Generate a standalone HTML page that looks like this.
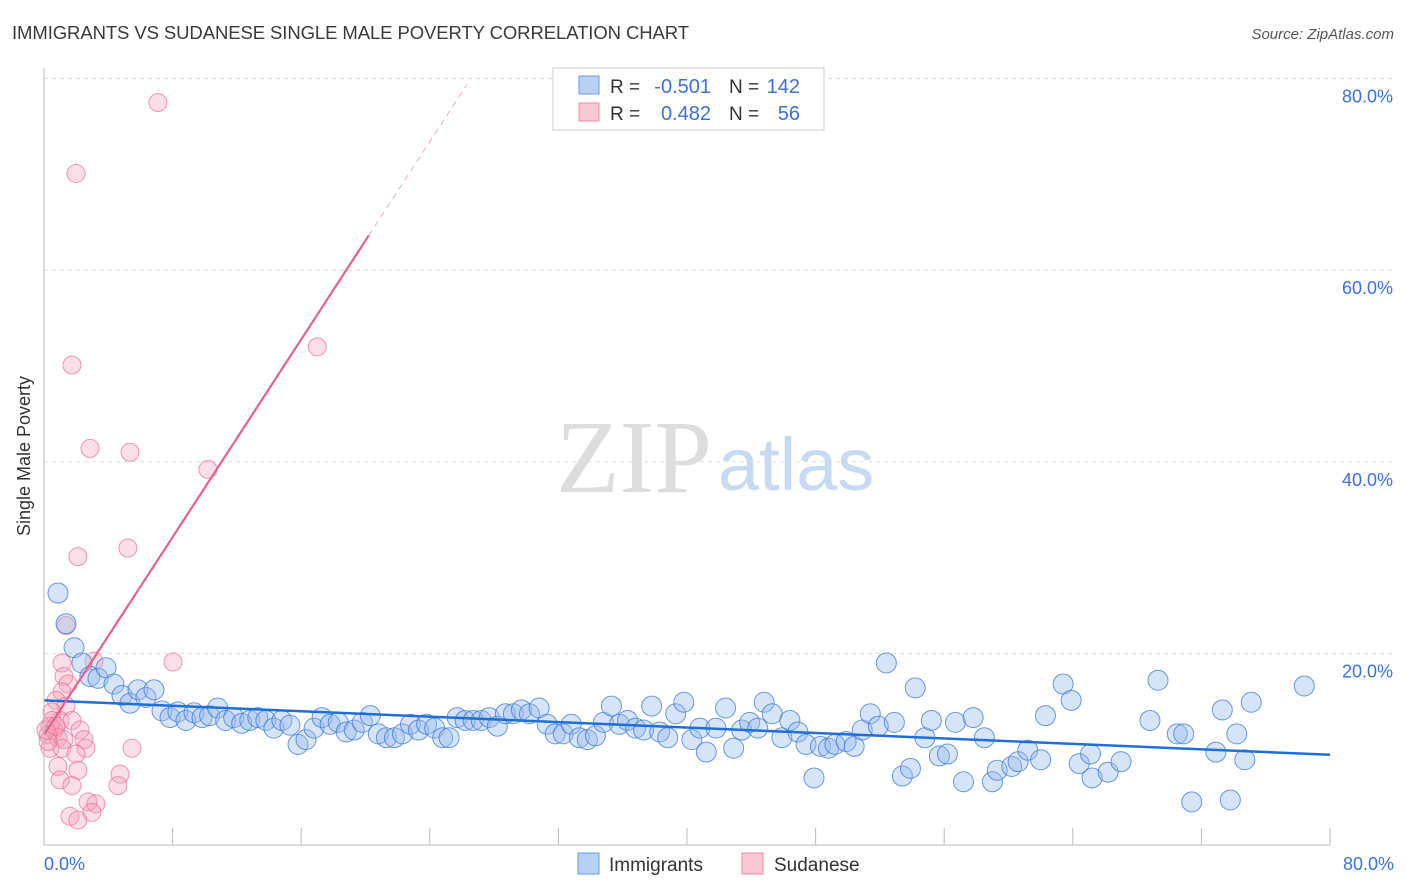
<!DOCTYPE html>
<html><head><meta charset="utf-8"><style>
body{margin:0;background:#fff;font-family:"Liberation Sans",sans-serif}
svg{display:block}
</style></head><body>
<svg id="c" width="1406" height="892">
<text x="12" y="39" font-size="18.5" fill="#3a3a3a" textLength="677">IMMIGRANTS VS SUDANESE SINGLE MALE POVERTY CORRELATION CHART</text>
<text x="1394" y="39" font-size="15" fill="#555" font-style="italic" text-anchor="end">Source: ZipAtlas.com</text>
<text x="30" y="456" font-size="18" fill="#333" text-anchor="middle" transform="rotate(-90 30 456)">Single Male Poverty</text>
<g id="grid"></g>
<text x="712" y="492" font-size="104" fill="#ddd" text-anchor="end" font-family="Liberation Serif">ZIP</text>
<text x="718" y="490" font-size="74" fill="#c8daf2">atlas</text>
<g id="marks"></g>
<line x1="44" y1="68" x2="44" y2="845" stroke="#bbb"/>
<line x1="44" y1="845" x2="1330" y2="845" stroke="#bbb"/>
<text x="44" y="870" font-size="18" fill="#3a72d8">0.0%</text>
<text x="1394" y="870" font-size="18" fill="#3a72d8" text-anchor="end">80.0%</text>
<g>
<rect x="553" y="68" width="271" height="62" fill="#fff" stroke="#ccc"/>
<rect x="579" y="76" width="20" height="18" fill="#b8d0f2" stroke="#6a9be0"/>
<rect x="579" y="103" width="20" height="18" fill="#f9c6d4" stroke="#ec8aa6"/>
<text x="610" y="93" font-size="19" fill="#333">R =</text>
<text x="711" y="93" font-size="20" fill="#3a72d8" text-anchor="end">-0.501</text>
<text x="729" y="93" font-size="19" fill="#333">N =</text>
<text x="800" y="93" font-size="20" fill="#3a72d8" text-anchor="end">142</text>
<text x="610" y="120" font-size="19" fill="#333">R =</text>
<text x="711" y="120" font-size="20" fill="#3a72d8" text-anchor="end">0.482</text>
<text x="729" y="120" font-size="19" fill="#333">N =</text>
<text x="800" y="120" font-size="20" fill="#3a72d8" text-anchor="end">56</text>
</g>
<g>
<rect x="578" y="853" width="21" height="21" fill="#b8d0f2" stroke="#6a9be0"/>
<text x="609" y="871" font-size="19" fill="#333">Immigrants</text>
<rect x="742" y="853" width="21" height="21" fill="#f9c6d4" stroke="#ec8aa6"/>
<text x="774" y="871" font-size="19" fill="#333">Sudanese</text>
</g>
</svg>
<script>
const yTicks=[20,40,60,80];
const xTicks=[0,8,16,24,32,40,48,56,64,72,80];
const blueX=[0.87,1.37,1.87,2.36,2.86,3.36,3.86,4.35,4.85,5.35,5.85,6.34,6.84,7.34,7.84,8.33,8.83,9.33,9.83,10.3,10.8,11.3,11.8,12.3,12.8,13.3,13.8,14.3,14.8,15.3,15.8,16.3,16.8,17.3,17.8,18.3,18.8,19.3,19.8,20.3,20.8,21.3,21.8,22.3,22.8,23.3,23.8,24.3,24.8,25.2,25.7,26.2,26.7,27.2,27.7,28.2,28.7,29.2,29.7,30.2,30.8,31.3,31.8,32.3,32.8,33.3,33.8,34.3,34.8,35.3,35.8,36.3,36.8,37.3,37.8,38.3,38.8,39.3,39.8,40.3,40.8,41.2,41.8,42.4,42.9,43.4,43.9,44.4,44.8,45.3,45.9,46.4,46.9,47.4,47.9,48.3,48.8,49.2,49.9,50.4,50.9,51.4,51.9,52.4,52.9,53.4,53.9,54.2,54.8,55.2,55.7,56.2,56.7,57.2,57.8,58.5,59.0,59.3,60.2,60.6,61.2,62.0,62.3,63.4,63.9,64.4,65.1,65.2,66.2,67.0,68.8,69.3,70.5,70.9,71.4,72.9,73.3,73.8,74.2,74.7,75.1,78.4];
const blueY=[26.3,23.1,20.6,19.0,17.6,17.4,18.5,16.8,15.6,14.8,16.2,15.4,16.2,14.0,13.3,13.9,13.0,13.8,13.3,13.5,14.3,13.0,13.3,12.7,13.0,13.3,13.0,12.2,13.0,12.5,10.5,11.0,12.2,13.3,12.6,12.8,11.8,12.0,12.8,13.5,11.6,11.2,11.2,11.6,12.6,12.0,12.6,12.2,11.2,11.2,13.3,13.0,13.0,13.0,13.3,12.4,13.7,13.7,14.1,13.7,14.3,12.6,11.6,11.6,12.6,11.2,11.0,11.4,12.8,14.5,12.6,13.0,12.2,12.0,14.5,11.8,11.2,13.7,14.9,11.0,12.2,9.7,12.2,14.3,10.1,12.0,12.8,12.2,14.9,13.7,11.2,13.0,11.8,10.5,7.0,10.3,10.1,10.5,10.8,10.3,12.0,13.7,12.4,19.0,12.8,7.2,8.0,16.4,11.2,13.0,9.3,9.5,12.8,6.6,13.3,11.2,6.6,7.8,8.2,8.7,9.9,8.9,13.5,16.8,15.1,8.5,9.5,7.0,7.6,8.7,13.0,17.2,11.6,11.6,4.5,9.7,14.1,4.7,11.6,8.9,14.9,16.6];
const pinkX=[7.09,1.99,17.0,1.74,2.86,5.35,10.2,5.22,2.11,1.37,8.02,1.12,3.11,1.24,1.49,1.12,0.75,1.37,0.5,1.0,1.74,0.37,0.62,2.24,0.25,0.87,1.24,2.49,0.37,1.12,2.61,5.47,1.99,0.87,2.11,4.73,1.0,1.74,4.6,2.74,3.23,1.62,2.11,2.98,0.5,0.25,0.75,0.12];
const pinkY=[77.5,70.1,52.0,50.1,41.4,41.0,39.2,31.0,30.1,22.9,19.1,19.0,19.2,17.6,16.8,16.0,15.1,14.5,13.9,13.0,13.0,12.4,12.0,12.0,11.5,11.2,11.0,11.0,10.1,10.1,10.1,10.1,9.5,8.2,7.8,7.4,6.8,6.2,6.2,4.5,4.3,3.0,2.6,3.4,13.0,10.8,12.4,12.0];
const blueTrend=[15.1,-0.071]; // intercept, slope
const pinkTrend=[11.5,2.58];
const X=v=>44+v*16.075, Y=v=>845-v*9.58;
const NS='http://www.w3.org/2000/svg';
const grid=document.getElementById('grid'), marks=document.getElementById('marks'), svg=document.getElementById('c');
function mk(tag,attrs,parent){const e=document.createElementNS(NS,tag);for(const k in attrs)e.setAttribute(k,attrs[k]);parent.appendChild(e);return e;}
yTicks.forEach(t=>{
 const l=mk('line',{x1:44,x2:1394,y1:Y(t),y2:Y(t),stroke:'#ddd','stroke-dasharray':'4,4'},grid);
 
 
 const tx=mk('text',{x:1393,y:Y(t)+24,'font-size':18,fill:'#3a72d8','text-anchor':'end'},svg);
 tx.textContent=t.toFixed(1)+'%';
 
 
});
xTicks.forEach(t=>{
 const l=mk('line',{x1:X(t),x2:X(t),y1:828,y2:845,stroke:'#bbb'},grid);
 
 
});
pinkX.forEach((x,i)=>{
 const c=mk('circle',{cx:X(x),cy:Y(pinkY[i]),r:9,fill:'rgba(244,160,186,0.35)',stroke:'rgba(232,110,148,0.7)','stroke-width':1},marks);
 
 
});
blueX.forEach((x,i)=>{
 const c=mk('circle',{cx:X(x),cy:Y(blueY[i]),r:10,fill:'rgba(150,188,236,0.4)',stroke:'rgba(60,120,215,0.75)','stroke-width':1},marks);
 
 
});
const bt=mk('line',{x1:X(0),y1:Y(blueTrend[0]),x2:X(80),y2:Y(blueTrend[0]+80*blueTrend[1]),stroke:'#1f6fd6','stroke-width':2.5},marks);


const pxEnd=20.2, pxDash=26.3;
const pt=mk('line',{x1:X(0),y1:Y(pinkTrend[0]),x2:X(pxEnd),y2:Y(pinkTrend[0]+pxEnd*pinkTrend[1]),stroke:'#e8608e','stroke-width':2.2},marks);


const pd=mk('line',{x1:X(pxEnd),y1:Y(pinkTrend[0]+pxEnd*pinkTrend[1]),x2:X(pxDash),y2:Y(pinkTrend[0]+pxDash*pinkTrend[1]),stroke:'#eeaabd','stroke-width':1,'stroke-dasharray':'6,5'},marks);


</script>
</body></html>
